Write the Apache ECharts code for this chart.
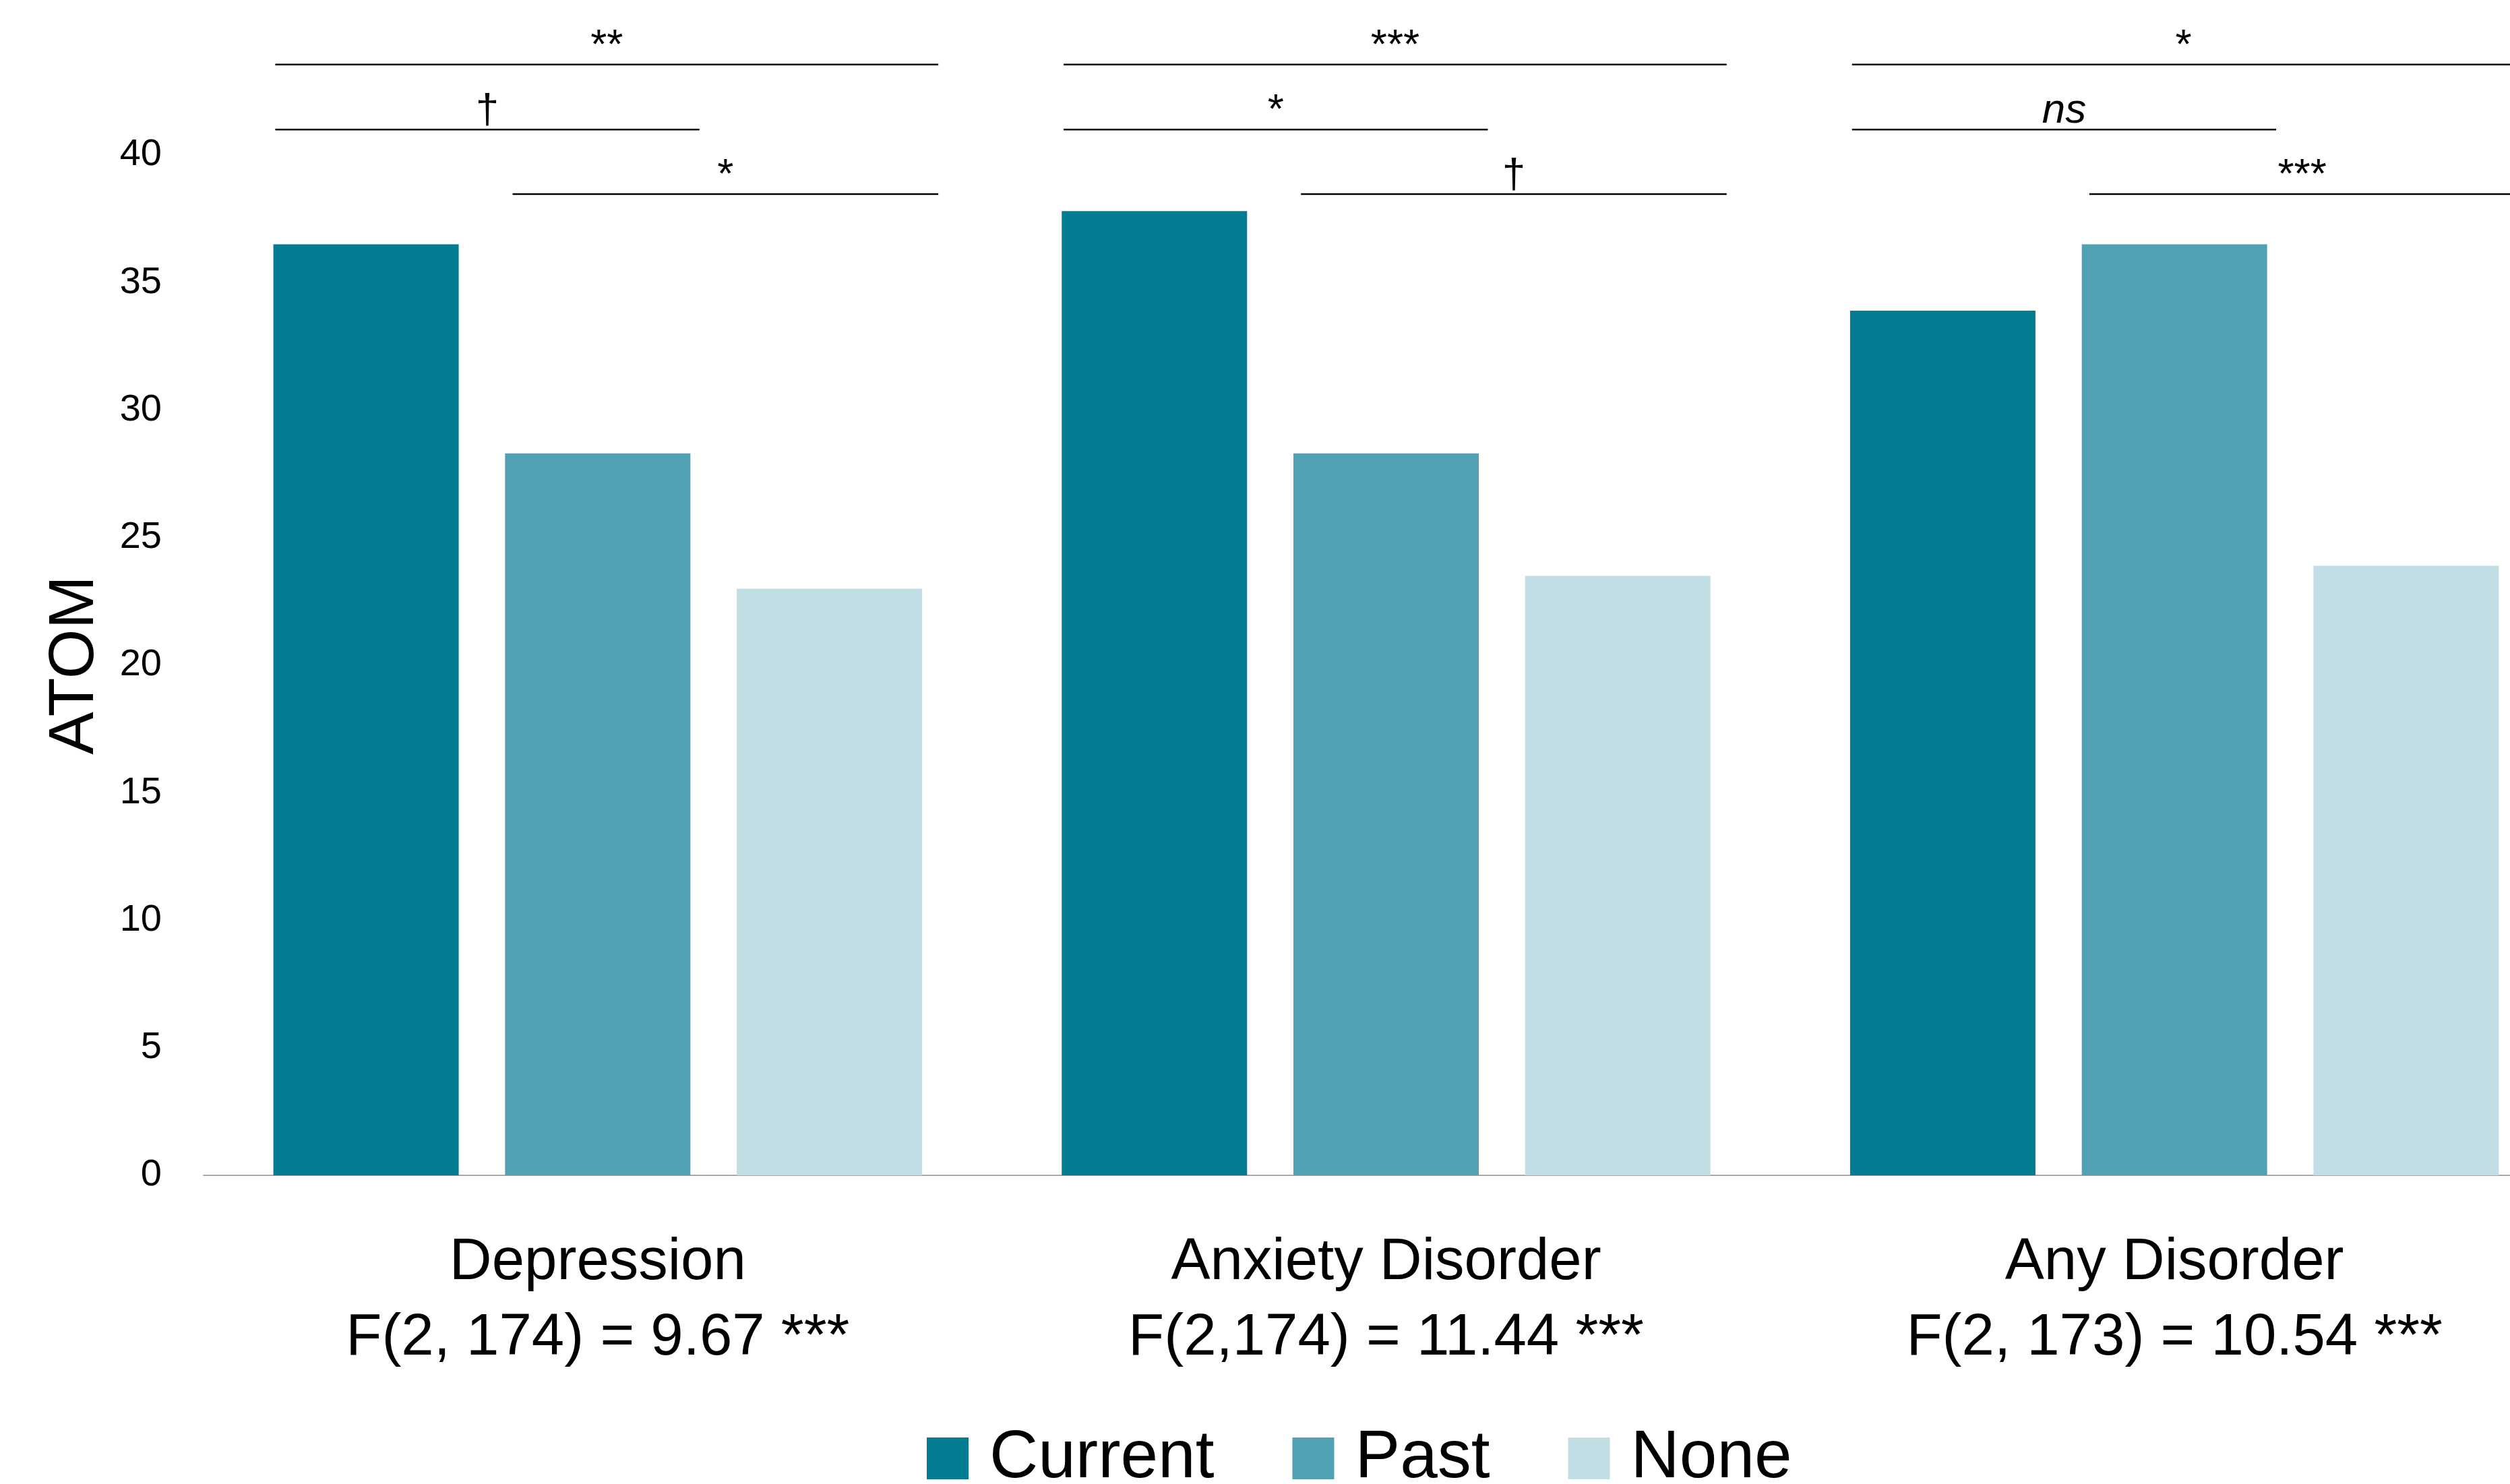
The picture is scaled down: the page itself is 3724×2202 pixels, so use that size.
<!DOCTYPE html>
<html>
<head>
<meta charset="utf-8">
<script src="https://cdn.jsdelivr.net/npm/echarts@6/dist/echarts.min.js"></script>
<style>
html,body{margin:0;padding:0;background:#fff;}
#chart{width:3724px;height:2202px;}
</style>
</head>
<body>
<div id="chart"></div>
<script>
// ---- data ----
const categories = ['Depression', 'Anxiety Disorder', 'Any Disorder'];
const fStats = ['F(2, 174) = 9.67 ***', 'F(2,174) = 11.44 ***', 'F(2, 173) = 10.54 ***'];
const seriesNames = ['Current', 'Past', 'None'];
const current = [36.5, 37.8, 33.9];
const past = [28.3, 28.3, 36.5];
const none = [23.0, 23.5, 23.9];
// significance of pairwise comparisons, per category
const sigCurrentNone = ['**', '***', '*'];
const sigCurrentPast = ['\u2020', '*', 'ns'];
const sigPastNone = ['*', '\u2020', '***'];
const yMin = 0, yMax = 40, yStep = 5;

// ---- styling / layout ----
const FONT = '"Liberation Sans", Arial, sans-serif';
const colors = ['#037B91', '#50A1B4', '#C0DEE3'];
// bracket definitions: level (y in data units) and horizontal span as fraction of category band
const brackets = [
  { sig: sigCurrentNone, level: 43.55, from: -0.409, to: 0.432 },
  { sig: sigCurrentPast, level: 41.0, from: -0.409, to: 0.129 },
  { sig: sigPastNone, level: 38.47, from: -0.108, to: 0.432 }
];
const bracketData = [];
categories.forEach((c, ci) => {
  brackets.forEach((b, bi) => bracketData.push([ci, b.level, bi]));
});

const chart = echarts.init(document.getElementById('chart'), null, { renderer: 'canvas' });

const barSeries = [current, past, none].map((vals, i) => ({
  name: seriesNames[i],
  type: 'bar',
  data: vals,
  barWidth: 275,
  barGap: '25%',
  itemStyle: { color: colors[i] },
  emphasis: { disabled: true },
  animation: false
}));

const option = {
  animation: false,
  backgroundColor: '#ffffff',
  grid: {
    left: 302, right: -87, top: 230, bottom: 458,
    containLabel: false,
    outerBoundsMode: 'none'
  },
  legend: {
    data: seriesNames,
    left: 1370,
    top: 2104,
    icon: 'rect',
    itemWidth: 62,
    itemHeight: 62,
    itemGap: 116,
    textStyle: {
      fontFamily: FONT, fontSize: 100, color: '#000',
      padding: [0, 0, 0, 26], lineHeight: 110
    }
  },
  xAxis: {
    type: 'category',
    data: categories,
    axisLine: { show: true, lineStyle: { color: '#a8a8a8', width: 2 } },
    axisTick: { show: false },
    splitLine: { show: false },
    axisLabel: {
      interval: 0,
      margin: 74,
      fontFamily: FONT,
      fontSize: 87,
      lineHeight: 112,
      color: '#000',
      formatter: (v, i) => v + '\n' + fStats[i]
    }
  },
  yAxis: {
    type: 'value',
    min: yMin, max: yMax, interval: yStep,
    name: 'ATOM',
    nameLocation: 'middle',
    nameRotate: 90,
    nameGap: 143,
    nameTextStyle: { fontFamily: FONT, fontSize: 95, color: '#000' },
    axisLine: { show: false },
    axisTick: { show: false },
    splitLine: { show: false },
    axisLabel: { margin: 62, fontFamily: FONT, fontSize: 56, color: '#000' }
  },
  series: barSeries.concat([{
    type: 'custom',
    name: 'brackets',
    clip: false,
    silent: true,
    data: bracketData,
    encode: { x: 0, y: 1 },
    z: 10,
    renderItem: function (params, api) {
      const ci = api.value(0);
      const level = api.value(1);
      const bi = api.value(2);
      const b = brackets[bi];
      const pt = api.coord([ci, level]);
      const band = api.size([1, 0])[0];
      const x1 = pt[0] + band * b.from;
      const x2 = pt[0] + band * b.to;
      const label = b.sig[ci];
      return {
        type: 'group',
        children: [
          {
            type: 'line',
            shape: { x1: x1, y1: pt[1], x2: x2, y2: pt[1] },
            style: { stroke: '#000', lineWidth: 2.5 }
          },
          {
            type: 'text',
            style: {
              text: label,
              x: (x1 + x2) / 2,
              y: pt[1] + 4,
              align: 'center',
              verticalAlign: 'bottom',
              fill: '#000',
              fontFamily: FONT,
              fontSize: 62,
              fontStyle: label === 'ns' ? 'italic' : 'normal'
            }
          }
        ]
      };
    }
  }])
};
chart.setOption(option);
</script>
</body>
</html>
